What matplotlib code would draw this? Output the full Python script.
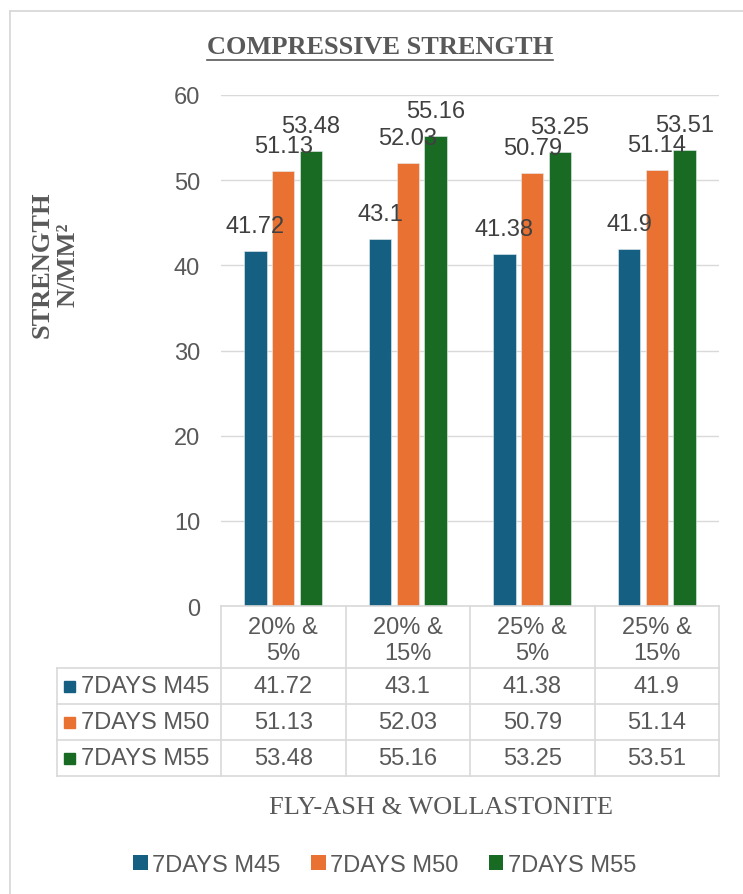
import matplotlib
matplotlib.use("Agg")
import matplotlib.pyplot as plt
from matplotlib.lines import Line2D
from matplotlib.patches import Patch, Rectangle

categories = ["20% &\n5%", "20% &\n15%", "25% &\n5%", "25% &\n15%"]
series_names = ["7DAYS M45", "7DAYS M50", "7DAYS M55"]
m45 = [41.72, 43.1, 41.38, 41.9]
m50 = [51.13, 52.03, 50.79, 51.14]
m55 = [53.48, 55.16, 53.25, 53.51]
colors = ["#156082", "#E97132", "#196B24"]
yticks = [0, 10, 20, 30, 40, 50, 60]

W, H = 743, 895
SANS = "Liberation Sans"
SERIF = "Liberation Serif"
GRID = "#d9d9d9"
TXT = "#595959"


def fx(px):
    return px / W


def fy(py):
    return 1 - py / H


fig = plt.figure(figsize=(W / 100, H / 100), dpi=100)

# chart frame (cropped on right / bottom like the screenshot)
fig.add_artist(Line2D([fx(10), fx(10)], [fy(12), fy(H + 5)], color=GRID, lw=1.3))
fig.add_artist(Line2D([fx(10), fx(W + 5)], [fy(12), fy(12)], color=GRID, lw=1.3))

ax = fig.add_axes([fx(221), fy(607), fx(719) - fx(221), fy(96) - fy(607)])
series = [m45, m50, m55]
offsets = [-0.223, 0.0, 0.223]
xs = list(range(len(categories)))
for vals, off, col in zip(series, offsets, colors):
    pos = [x + off for x in xs]
    ax.bar(pos, vals, width=0.178, color=col, edgecolor="#e8eef2", linewidth=0.4, zorder=3)
    for p, v in zip(pos, vals):
        ax.annotate(f"{v:g}", (p, v), xytext=(0, 18), textcoords="offset points",
                    ha="center", va="center", fontsize=17, family=SANS,
                    color="#404040", zorder=4)

ax.set_xlim(-0.5, len(categories) - 0.5)
ax.set_ylim(0, 60)
ax.set_yticks(yticks)
ax.set_xticks([])
ax.yaxis.grid(True, color=GRID, lw=1.0, zorder=0)
for s in ax.spines.values():
    s.set_visible(False)
ax.tick_params(axis="y", length=0, pad=15, labelsize=17, labelcolor=TXT)
for lab in ax.get_yticklabels():
    lab.set_family(SANS)

# data table under the axis
fig.canvas.draw()
col_edges = []
for i in range(len(categories) + 1):
    xd = ax.transData.transform((i - 0.5, 0))[0]
    col_edges.append(xd)
row_edges = [607, 669, 705, 741, 777]
left_edge = 57


def hline(y, x0, x1):
    fig.add_artist(Line2D([fx(x0), fx(x1)], [fy(y), fy(y)], color=GRID, lw=1.2))


def vline(x, y0, y1):
    fig.add_artist(Line2D([fx(x), fx(x)], [fy(y0), fy(y1)], color=GRID, lw=1.2))


hline(row_edges[0], col_edges[0], col_edges[-1])
for y in row_edges[1:]:
    hline(y, left_edge, col_edges[-1])
for x in col_edges:
    vline(x, row_edges[0], row_edges[-1])
vline(left_edge, row_edges[1], row_edges[-1])

for i, cat in enumerate(categories):
    cx = (col_edges[i] + col_edges[i + 1]) / 2
    fig.text(fx(cx), fy((row_edges[0] + row_edges[1]) / 2 + 3), cat, ha="center", va="center",
             fontsize=17, family=SANS, color=TXT, linespacing=1.22)

for r, (name, vals, col) in enumerate(zip(series_names, series, colors)):
    cy = (row_edges[r + 1] + row_edges[r + 2]) / 2
    fig.add_artist(Rectangle((fx(64), fy(cy + 5.5)), fx(11), 11 / H, color=col,
                             transform=fig.transFigure))
    fig.text(fx(81), fy(cy), name, ha="left", va="center", fontsize=17,
             family=SANS, color=TXT)
    for i, v in enumerate(vals):
        cx = (col_edges[i] + col_edges[i + 1]) / 2
        fig.text(fx(cx), fy(cy), f"{v:g}", ha="center", va="center", fontsize=17,
                 family=SANS, color=TXT)

# titles
title = fig.text(fx(380), fy(48), "COMPRESSIVE STRENGTH", ha="center", va="center",
                 fontsize=19, weight="bold", family=SERIF, color=TXT)
fig.text(fx(55), fy(265), "STRENGTH\nN/MM\u00b2", ha="center", va="center", rotation=90,
         fontsize=19, weight="bold", family=SERIF, color=TXT, linespacing=1.2)
fig.text(fx(441), fy(808), "FLY-ASH & WOLLASTONITE", ha="center", va="center",
         fontsize=19, family=SERIF, color=TXT)

fig.canvas.draw()
bb = title.get_window_extent()
fig.add_artist(Line2D([bb.x0 / W, bb.x1 / W], [(bb.y0 - 1) / H, (bb.y0 - 1) / H],
                      color=TXT, lw=1.2))

handles = [Patch(facecolor=c, edgecolor="none") for c in colors]
fig.legend(handles, series_names, loc="center", bbox_to_anchor=(fx(385), fy(866)),
           ncol=3, frameon=False, handlelength=0.6, handleheight=0.6,
           handletextpad=0.2, columnspacing=1.3,
           prop={"family": SANS, "size": 17}, labelcolor=TXT)

fig.savefig("out.png", dpi=100)
